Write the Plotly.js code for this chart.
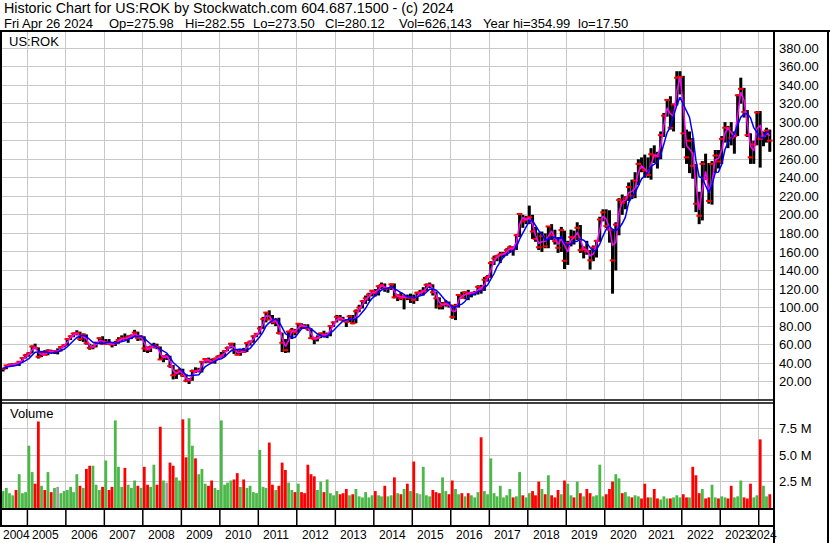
<!DOCTYPE html>
<html><head><meta charset="utf-8">
<script src="https://cdn.plot.ly/plotly-3.0.1.min.js"></script>
<style>html,body{margin:0;padding:0;background:#fff;} #chart{width:830px;height:543px;}</style>
</head><body><div id="chart"></div>
<script>
// ---- data (monthly bars, May 2004 .. Apr 2024) ----
const startYear = 2004, startMonth = 5;
const highs = [
 35,38,39.5,40,40.5,42,46.5,50,
 52,59,61,57,52,54,55,54.5,54,56,58.5,60.5,
 67,70,73,75.5,74,72,71,61,60,63,68,69,
 66,66,62.5,64,68,70,72,70,71,76,74,70,
 69,58,59,62,61,58,48,50,48,38,33,34.5,
 34,28,24,33,35.5,35,42,45.5,46,45,46,48.5,
 52,54,58,62,62,55,55.5,56.5,62,64.5,70,72.5,
 80,90,95,97,92,88,89,73,66,75,78,77,
 83,83,82,82,77.5,67.5,70,73,75,73,81,85,
 92,92,90,87.5,92,92,98,103,108,113,116,119,
 120,124,127,126,122,126,126,114,116.5,113,114,115,
 114,117,119,122,126,127,125,117,111,106,108,106.5,
 103,104,114,117,117.5,119,117,118,124,124.5,133,135,
 150,156,157,160,160,164,167,166,179,202,200,199,
 210,200,187,181,182,180,188,190,184,176,187,183,
 172,184,183,192,189,166,172,162,167,173,198,206,
 206,205,185,192,218,222,220,235,238,246,260,262,
 265,262,272,275,268,290,310,325,328,320,355,355,
 350,292,290,283,255,225,258,266,256,258,270,270,
 285,300,296,300,290,330,348,337,313,288,280,312,
 312,290,294,292];
const lows = [
 31,33.5,36,36.5,37.5,37,41,45,
 47,50.5,55,45,46.5,48.5,48.5,50.5,50,49.5,52.5,57,
 59,65,68,70,64,63,60,54.5,55,57,61,60.5,
 60,60,57,58.5,61,64,65,62,66,68,64,64.5,
 52,51,52,56,55,43.5,41,43.5,35,22.5,23,27.5,
 25,19.5,17.5,21,29.5,30,30,40,40.5,40,39.5,44,
 46,47,53,56,50,48.5,48,51,52,59,62,68,
 71,77,84,87,82,80,71,52,51,51.5,66,70,
 73.5,77,77,75,66,60.5,63.5,67,68,67,69,79,
 84,86,85,79,84,82,83,95,99,104,107,112,
 112,113,120,117,116,119,110,107,108,98,108,105,
 104,107,113,113,118,121,113,99,98,98,101,100,
 88,86.5,100,110,109,108,111,113,114,115,118,128,
 132,146,150,148,154,156,160,156,162,176,186,190,
 190,174,171,162,160,164,164,173,168,159,160,141.5,
 146,166,168,173,159,153,157,141,150,154,171,193,
 186,170,115,140,178,200,206,215,217,218,232,246,
 240,240,238,256,250,260,284,306,292,290,318,330,
 272,255,245,239,203,190,194,238,212,211,245,250,
 255,278,272,275,266,285,320,305,284,255,255,275,
 251,274,278,268];
const closes = [
 34,37.5,38,39,38.7,41.5,45.5,48.5,
 50.5,58,56.5,47,51.5,49,53.5,52,53,53,57.5,59.2,
 66,69,72,72.5,66,71,61.5,56.5,58,62,67,61,
 63,61,60,62,65,67,66.5,68,69.5,73,67,68.5,
 56,54.5,57.5,59,57,44,47.5,47.5,37,27,30,32.2,
 26.5,21,21.8,31.6,31.5,32,41.5,44.5,42.6,41,44.5,47,
 48.3,53,56.4,60.9,54,49.1,54.3,52,61.7,63,69,71.7,
 77.5,87.5,94.6,87,84,86.8,72.5,62,54,74,75.5,73.4,
 82.5,80,79.7,77.3,67,66,67.4,72,69.6,71,80,84,
 90,88,86.3,84.7,90.5,83.1,96,100,106.8,110,114,118,
 115.5,123,124.5,120,121,125,111,113.5,110,112,110.5,111.2,
 108,116,116,118,124.5,124.6,116.5,110,101.5,103.5,104.5,102.6,
 90,102,113.6,110.5,116.5,114.8,115.7,116,122.3,119.7,130,133,
 148,153,155.7,157.5,158,162,165,163,178,201,193,196,
 197.5,182,174,165,177,166,187.5,178,171.6,164.5,183.5,150.5,
 169.5,176,175.5,186,162,163.8,160.5,151,164.8,172,195,202.7,
 188,184,150.9,189.5,216,213,218,230,220.7,237,255,250.8,
 248,243,265.4,264,263,286,307,324,294,319,348,348.8,
 288,262,280,253,212,199,255,239,215,255,264,257.6,
 282,294,293.5,283,285,329,336,311,286,262,276,310.5,
 282,285,291,280.1];
const volumesM = [
 1.6,1.9,1.4,1.2,1.7,3.2,1.4,1.5,
 5.9,3.4,2.3,8.2,2.1,1.7,3.4,1.5,1.9,2.0,1.4,1.6,
 1.7,2.0,1.5,3.2,2.1,1.9,3.7,4.0,4.0,2.2,1.7,2.0,
 4.5,1.7,2.0,8.3,3.9,2.0,3.8,2.2,1.9,2.6,2.1,1.9,
 3.9,2.2,2.0,4.1,2.2,7.7,2.6,2.4,4.3,4.0,2.9,2.6,
 8.4,4.8,8.5,5.9,4.7,3.2,3.7,2.3,2.1,2.6,1.9,1.7,
 8.3,2.2,2.4,2.6,2.7,3.3,2.0,2.7,1.9,2.1,1.5,1.4,
 5.5,2.0,1.9,6.2,2.2,1.7,2.1,4.3,3.6,2.4,1.7,1.5,
 2.3,1.5,1.4,4.1,3.2,3.0,1.7,2.5,1.5,2.7,1.4,1.2,
 1.6,1.3,1.4,1.8,1.2,1.3,1.8,1.1,1.0,1.5,1.0,1.2,
 1.6,1.2,1.1,2.1,1.1,1.2,2.9,1.4,1.3,1.8,2.3,1.6,
 4.4,1.4,1.3,3.9,1.2,1.1,1.7,1.5,1.4,2.9,1.6,1.3,
 2.6,1.8,1.3,1.4,1.1,1.4,1.2,1.0,1.5,6.7,1.6,1.3,
 4.7,1.4,1.1,2.1,1.0,1.2,1.8,1.0,1.1,3.4,1.2,1.0,
 1.4,1.6,1.2,2.5,1.8,1.3,3.1,1.2,1.0,1.7,1.3,2.6,
 2.3,1.2,1.0,2.5,1.4,1.1,1.8,1.4,1.1,1.2,4.1,1.1,
 1.3,1.8,2.5,3.2,2.8,1.4,1.5,1.1,1.0,1.2,1.1,0.9,
 2.3,1.0,1.0,1.8,0.9,0.8,1.1,0.9,0.9,1.0,1.2,1.0,
 1.3,1.0,1.0,3.9,3.1,1.4,1.8,0.9,1.0,2.2,1.0,0.9,
 1.1,1.0,0.9,2.1,1.0,1.1,2.6,1.0,0.9,2.3,1.0,1.2,
 6.5,2.1,1.1,1.3];
const yearLabels = [2004,2005,2006,2007,2008,2009,2010,2011,2012,2013,2014,2015,2016,2017,2018,2019,2020,2021,2022,2023,2024];
const priceTicks = [20,40,60,80,100,120,140,160,180,200,220,240,260,280,300,320,340,360,380];
const volTicks = [2.5,5,7.5];
const volTickText = ['2.5 M','5.0 M','7.5 M'];
const headerLine1 = 'Historic Chart for US:ROK by Stockwatch.com 604.687.1500 - (c) 2024';
const headerLine2 = ['Fri Apr 26 2024','Op=275.98','Hi=282.55','Lo=273.50','Cl=280.12','Vol=626,143','Year hi=354.99','lo=17.50'];
const symbolLabel = 'US:ROK';
const volumeLabel = 'Volume';
const shortMA = 2, longMA = 5;

// ---- build ----
const n = closes.length;
const dates = [];
for (let i = 0; i < n; i++) {
  const m = startMonth - 1 + i;
  const y = startYear + Math.floor(m / 12);
  const mm = m % 12 + 1;
  dates.push(y + '-' + String(mm).padStart(2, '0') + '-15');
}
const segX = [], segY = [];
for (let i = 0; i < n; i++) { segX.push(dates[i], dates[i], null); segY.push(lows[i], highs[i], null); }
function ma(arr, k) {
  return arr.map((v, i) => { const s = arr.slice(Math.max(0, i - k + 1), i + 1); return s.reduce((a, b) => a + b, 0) / s.length; });
}
const volColors = closes.map((c, i) => {
  if (i === 0) return '#4cb848';
  return c > closes[i - 1] ? '#4cb848' : (c < closes[i - 1] ? '#ff0000' : '#a0a0a0');
});
const yearStarts = yearLabels.slice(1).map(y => y + '-01-01');

const FONT = '"Liberation Sans", Arial, sans-serif';
const PL = 2, PR = 774, PT = 32, PB = 509;
const W = PR - PL, H = PB - PT;
const px = x => (x - PL) / W;
const py = y => (PB - y) / H;

const traces = [
  { x: dates, y: volumesM, type: 'bar', xaxis: 'x2', yaxis: 'y2', marker: { color: volColors, line: { width: 0 } }, hoverinfo: 'skip' },
  { x: segX, y: segY, type: 'scatter', mode: 'lines', line: { color: '#000', width: 3 }, hoverinfo: 'skip' },
  { x: dates, y: closes, type: 'scatter', mode: 'markers', marker: { symbol: 'line-ew-open', size: 4, color: '#ff0000', line: { color: '#ff0000', width: 2 } }, hoverinfo: 'skip' },
  { x: dates, y: ma(closes, shortMA), type: 'scatter', mode: 'lines', line: { color: '#ff00ff', width: 1.5 }, hoverinfo: 'skip' },
  { x: dates, y: ma(closes, longMA), type: 'scatter', mode: 'lines', line: { color: '#0000ff', width: 1.5 }, hoverinfo: 'skip' }
];

function L(x0, y0, x1, y1, w) {
  return { type: 'line', xref: 'paper', yref: 'paper', x0: px(x0), y0: py(y0), x1: px(x1), y1: py(y1), line: { color: '#000', width: w } };
}
const shapes = [
  L(0, 31, 830, 31, 2),
  L(1, 31, 1, 526, 2),
  L(774, 31, 774, 543, 2),
  L(828, 31, 828, 543, 2),
  L(0, 400, 774, 400, 1.5),
  L(0, 403, 774, 403, 1.5),
  L(0, 509, 774, 509, 2),
  L(0, 526, 774, 526, 2)
];
yearStarts.forEach(d => shapes.push({ type: 'line', xref: 'x', yref: 'paper', x0: d, x1: d, y0: py(509), y1: py(526), line: { color: '#000', width: 1.5 } }));

function A(text, x, y, size, anchor) {
  return { text: text, xref: 'paper', yref: 'paper', x: px(x), y: py(y), xanchor: anchor || 'left', yanchor: 'middle', showarrow: false, font: { family: FONT, size: size, color: '#000' } };
}
const header2X = [2, 107, 183, 251, 323, 397, 481, 576];
const annotations = [A(headerLine1, 2, 8.5, 14.3)];
headerLine2.forEach((t, i) => annotations.push(A(t, header2X[i], 23, 13)));
annotations.push(A(symbolLabel, 7, 41.5, 13));
annotations.push(A(volumeLabel, 8, 413, 13));
yearLabels.forEach((y, i) => {
  if (i === 0) annotations.push(A(String(y), 1, 535, 12));
  else if (i === yearLabels.length - 1) annotations.push(A(String(y), 779, 535, 12, 'right'));
  else annotations.push({ text: String(y), xref: 'x', yref: 'paper', x: y + '-01-01', y: py(535), xanchor: 'left', yanchor: 'middle', xshift: 3, showarrow: false, font: { family: FONT, size: 12, color: '#000' } });
});

const xBase = { type: 'date', range: ['2004-05-05', '2024-05-25'], tickvals: yearStarts, showticklabels: false, ticks: '', showgrid: true, gridcolor: '#c8c8c8', gridwidth: 1, zeroline: false, showline: false, fixedrange: true };
const layout = {
  width: 830, height: 543,
  margin: { l: PL, r: 830 - PR, t: PT, b: 543 - PB, pad: 0 },
  paper_bgcolor: '#fff', plot_bgcolor: '#fff', showlegend: false,
  font: { family: FONT, size: 13, color: '#000' },
  xaxis: Object.assign({}, xBase, { anchor: 'y', domain: [0, 1] }),
  xaxis2: Object.assign({}, xBase, { anchor: 'y2', domain: [0, 1], matches: 'x' }),
  yaxis: { domain: [py(400), 1], range: [0.26, 397.3], side: 'right', tickvals: priceTicks, tickformat: '.2f', ticks: '', showgrid: true, gridcolor: '#c8c8c8', gridwidth: 1, zeroline: false, showline: false, ticklabelstandoff: 4, automargin: false, tickfont: { family: FONT, size: 13, color: '#000' } },
  yaxis2: { domain: [0, py(403)], range: [-0.1, 9.95], side: 'right', tickvals: volTicks, ticktext: volTickText, ticks: '', showgrid: true, gridcolor: '#c8c8c8', gridwidth: 1, zeroline: false, showline: false, ticklabelstandoff: 4, automargin: false, tickfont: { family: FONT, size: 13, color: '#000' } },
  bargap: 0.05,
  shapes: shapes,
  annotations: annotations
};
Plotly.newPlot('chart', traces, layout, { staticPlot: true, displayModeBar: false });
</script>
</body></html>
